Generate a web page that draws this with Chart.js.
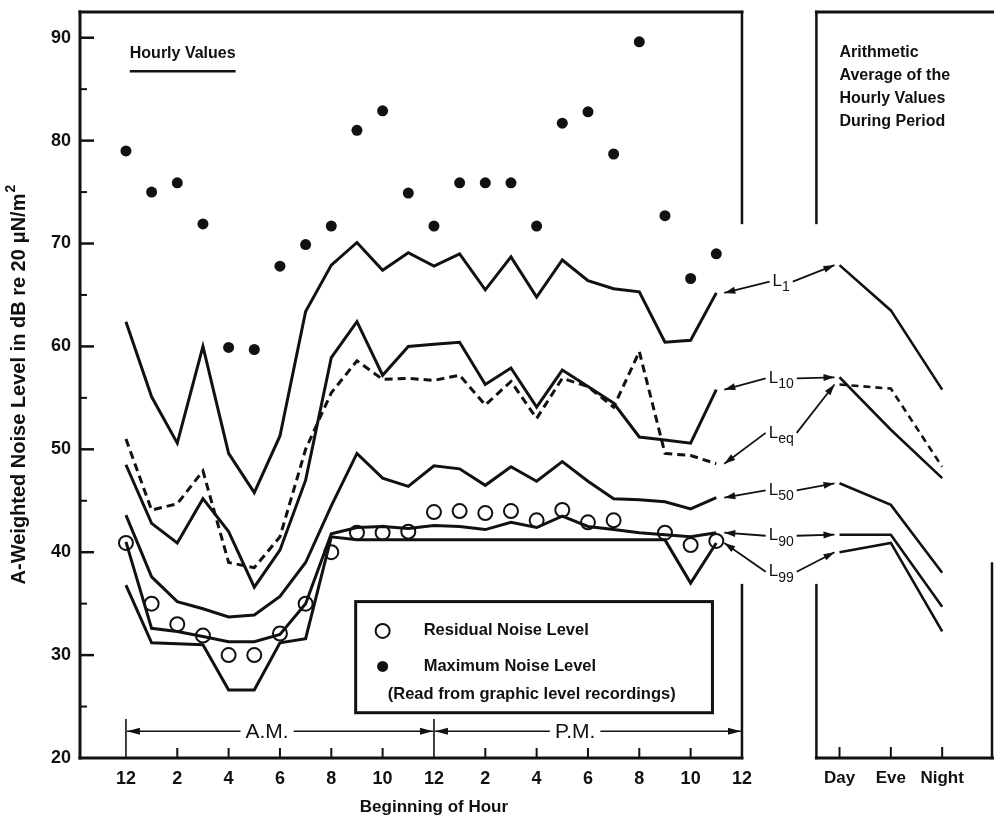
<!DOCTYPE html>
<html>
<head>
<meta charset="utf-8">
<title>A-weighted noise levels by hour</title>
<script src="https://cdn.jsdelivr.net/npm/chart.js@4.4.1/dist/chart.umd.min.js"></script>
<style>
  html, body { margin: 0; padding: 0; background: #fff; }
  canvas { display: block; }
</style>
</head>
<body>
<canvas id="chart" width="994" height="821"></canvas>
<script>
// Hour of day the sample starts at (0 = midnight), and the averaging periods
const HOURS = [0, 1, 2, 3, 4, 5, 6, 7, 8, 9, 10, 11, 12, 13, 14, 15, 16, 17, 18, 19, 20, 21, 22, 23];
const PERIODS = ["Day", "Eve", "Night"];
const HOUR_TICKS = [0, 2, 4, 6, 8, 10, 12, 14, 16, 18, 20, 22, 24];
const LEVEL_TICKS = [20, 30, 40, 50, 60, 70, 80, 90];
const LEVEL_MINOR = [25, 35, 45, 55, 65, 75, 85];

// Statistical levels, dB(A), per hour
const L1 = [62.4, 55.1, 50.6, 60.0, 49.6, 45.8, 51.3, 63.4, 67.9, 70.1, 67.4, 69.1, 67.8, 69.0, 65.5, 68.7, 64.8, 68.4, 66.4, 65.6, 65.3, 60.4, 60.6, 65.2];
const L10 = [48.5, 42.8, 40.9, 45.2, 42.0, 36.6, 40.2, 47.0, 58.9, 62.4, 57.2, 60.0, 60.2, 60.4, 56.3, 57.9, 54.1, 57.7, 56.1, 54.5, 51.2, 50.9, 50.6, 55.8];
const LEQ = [51.0, 44.1, 44.7, 47.9, 39.0, 38.5, 41.5, 50.0, 55.5, 58.6, 56.8, 56.9, 56.7, 57.2, 54.3, 56.6, 53.0, 56.9, 56.1, 54.1, 59.5, 49.6, 49.4, 48.6];
const L50 = [43.6, 37.6, 35.2, 34.5, 33.7, 33.9, 35.7, 39.0, 44.5, 49.6, 47.2, 46.4, 48.4, 48.1, 46.5, 48.3, 46.9, 48.8, 46.9, 45.2, 45.1, 44.9, 44.2, 45.3];
const L90 = [41.0, 32.6, 32.3, 31.8, 31.3, 31.3, 32.0, 35.0, 41.8, 42.4, 42.5, 42.3, 42.6, 42.5, 42.2, 42.9, 42.4, 43.5, 42.5, 42.2, 41.9, 41.7, 41.5, 41.9];
const L99 = [36.8, 31.2, 31.1, 31.0, 26.6, 26.6, 31.2, 31.6, 41.5, 41.2, 41.2, 41.2, 41.2, 41.2, 41.2, 41.2, 41.2, 41.2, 41.2, 41.2, 41.2, 41.2, 37.0, 40.9];

// Point readings per hour
const MAX_LEVEL = [79.0, 75.0, 75.9, 71.9, 59.9, 59.7, 67.8, 69.9, 71.7, 81.0, 82.9, 74.9, 71.7, 75.9, 75.9, 75.9, 71.7, 81.7, 82.8, 78.7, 89.6, 72.7, 66.6, 69.0];
const RESIDUAL = [40.9, 35.0, 33.0, 31.9, 30.0, 30.0, 32.1, 35.0, 40.0, 41.9, 41.9, 42.0, 43.9, 44.0, 43.8, 44.0, 43.1, 44.1, 42.9, 43.1, null, 41.9, 40.7, 41.1];

// Arithmetic averages for Day / Eve / Night
const L1_AVG = [67.9, 63.5, 55.8];
const L10_AVG = [57.0, 51.9, 47.2];
const LEQ_AVG = [56.3, 55.9, 48.3];
const L50_AVG = [46.7, 44.6, 38.0];
const L90_AVG = [41.7, 41.7, 34.7];
const L99_AVG = [40.0, 40.9, 32.3];

const SUBSCRIPTS = ["1", "10", "eq", "50", "90", "99"];

// ---- layout (axis units) ----
const X_MIN = -1.79, X_MAX = 33.78;      // hours spanned by the plot area
const PERIOD_ORIGIN = 27.8;              // hour position of the Day column
const PERIOD_STEP = 2;                   // hours between period columns
const SIDE_EDGE = -0.45;                 // left frame of the average panel, period units
const Y_MIN = 20, Y_MAX = 92.5;
const GAP_TOP = 72.0, GAP_BOTTOM = 36.8; // opening in the frames for the labels
const LABEL_AT = [66.3, 56.9, 51.6, 46.0, 41.6, 38.1];

const INK = "#111";
const FONT = '"Liberation Sans", Arial, Helvetica, sans-serif';

const pts = (xs, ys) => xs.map((x, i) => ({ x, y: ys[i] }));
const periodIdx = PERIODS.map((_, i) => i);

const hourly = [L1, L10, LEQ, L50, L90, L99];
const averages = [L1_AVG, L10_AVG, LEQ_AVG, L50_AVG, L90_AVG, L99_AVG];

function lineSet(values, dashed) {
  return {
    data: pts(HOURS, values),
    xAxisID: "x",
    borderColor: INK,
    borderWidth: 3,
    borderDash: dashed ? [8, 5] : [],
    pointRadius: 0,
    tension: 0,
    fill: false,
  };
}
function avgSet(values, dashed) {
  return {
    data: pts(periodIdx, values),
    xAxisID: "xp",
    borderColor: INK,
    borderWidth: 2.6,
    borderDash: dashed ? [7, 5] : [],
    pointRadius: 0,
    tension: 0,
    fill: false,
  };
}

const datasets = [
  {
    label: "Residual Noise Level",
    data: pts(HOURS, RESIDUAL),
    xAxisID: "x",
    showLine: false,
    pointRadius: 7,
    pointBorderWidth: 2,
    pointBorderColor: INK,
    pointBackgroundColor: "rgba(255,255,255,0)",
  },
  {
    label: "Maximum Noise Level",
    data: pts(HOURS, MAX_LEVEL),
    xAxisID: "x",
    showLine: false,
    pointRadius: 5.5,
    pointBorderWidth: 0,
    pointBackgroundColor: INK,
  },
  ...hourly.map((v, i) => lineSet(v, i === 2)),
  ...averages.map((v, i) => avgSet(v, i === 2)),
];

function arrow(ctx, x1, y1, x2, y2, head, half) {
  ctx.beginPath();
  ctx.moveTo(x1, y1);
  ctx.lineTo(x2, y2);
  ctx.stroke();
  const a = Math.atan2(y2 - y1, x2 - x1);
  const c = Math.cos(a), s = Math.sin(a);
  ctx.beginPath();
  ctx.moveTo(x2, y2);
  ctx.lineTo(x2 - head * c + half * s, y2 - head * s - half * c);
  ctx.lineTo(x2 - head * c - half * s, y2 - head * s + half * c);
  ctx.closePath();
  ctx.fill();
}

function seg(ctx, x1, y1, x2, y2) {
  ctx.beginPath();
  ctx.moveTo(x1, y1);
  ctx.lineTo(x2, y2);
  ctx.stroke();
}

// frames, inward ticks, labels and the legend box
const decorations = {
  id: "decorations",
  beforeDatasetsDraw(chart) {
    const { ctx, chartArea: ca } = chart;
    const x = chart.scales.x, y = chart.scales.y, p = chart.scales.xp;
    const mainRight = x.getPixelForValue(24);
    const sideLeft = p.getPixelForValue(SIDE_EDGE);
    const gapTop = y.getPixelForValue(GAP_TOP), gapBot = y.getPixelForValue(GAP_BOTTOM);
    ctx.save();
    ctx.strokeStyle = INK;
    ctx.lineCap = "square";
    ctx.lineWidth = 3;
    // hourly panel
    seg(ctx, ca.left, ca.top, ca.left, ca.bottom);
    seg(ctx, ca.left, ca.bottom, mainRight, ca.bottom);
    seg(ctx, ca.left, ca.top, mainRight, ca.top);
    ctx.lineWidth = 2.5;
    seg(ctx, mainRight, ca.top, mainRight, gapTop);
    seg(ctx, mainRight, gapBot, mainRight, ca.bottom);
    // average panel
    ctx.lineWidth = 3;
    seg(ctx, sideLeft, ca.bottom, ca.right, ca.bottom);
    seg(ctx, sideLeft, ca.top, ca.right, ca.top);
    ctx.lineWidth = 2.5;
    seg(ctx, sideLeft, ca.top, sideLeft, gapTop);
    seg(ctx, sideLeft, gapBot, sideLeft, ca.bottom);
    seg(ctx, ca.right - 1, y.getPixelForValue(38.9), ca.right - 1, ca.bottom);

    ctx.lineCap = "butt";
    ctx.lineWidth = 2.5;
    LEVEL_TICKS.slice(1).forEach(v => {
      const py = y.getPixelForValue(v);
      seg(ctx, ca.left, py, ca.left + 14, py);
    });
    ctx.lineWidth = 2;
    LEVEL_MINOR.forEach(v => {
      const py = y.getPixelForValue(v);
      seg(ctx, ca.left, py, ca.left + 7, py);
    });
    HOUR_TICKS.filter(h => h % 12 !== 0).forEach(h => {
      const px = x.getPixelForValue(h);
      seg(ctx, px, ca.bottom, px, ca.bottom - 10);
    });
    periodIdx.forEach(i => {
      const px = p.getPixelForValue(i);
      seg(ctx, px, ca.bottom, px, ca.bottom - 11);
    });

    // A.M. / P.M. brackets
    const by = y.getPixelForValue(22.6), bTop = y.getPixelForValue(23.8);
    ctx.lineWidth = 1.6;
    ctx.fillStyle = INK;
    [0, 12].forEach(h => seg(ctx, x.getPixelForValue(h), bTop, x.getPixelForValue(h), ca.bottom));
    ctx.font = `21px ${FONT}`;
    ctx.textAlign = "center";
    ctx.textBaseline = "middle";
    [["A.M.", 0, 12], ["P.M.", 12, 24]].forEach(([txt, h0, h1]) => {
      const cx = x.getPixelForValue(h0 + 5.5);
      const hw = ctx.measureText(txt).width / 2 + 5;
      arrow(ctx, cx - hw, by, x.getPixelForValue(h0) + 1, by, 13, 3.5);
      arrow(ctx, cx + hw, by, x.getPixelForValue(h1) - 1, by, 13, 3.5);
      ctx.fillText(txt, cx, by + 1);
    });
    ctx.restore();
  },
  afterDatasetsDraw(chart) {
    const { ctx, chartArea: ca } = chart;
    const x = chart.scales.x, y = chart.scales.y, p = chart.scales.xp;
    ctx.save();
    ctx.fillStyle = INK;
    ctx.strokeStyle = INK;

    // series labels in the gap, with arrows both ways
    const mainRight = x.getPixelForValue(24);
    const sideLeft = p.getPixelForValue(SIDE_EDGE);
    const cx = (mainRight + sideLeft) / 2 + 2;
    ctx.textBaseline = "middle";
    ctx.textAlign = "left";
    SUBSCRIPTS.forEach((sub, i) => {
      const ly = y.getPixelForValue(LABEL_AT[i]);
      ctx.font = `17px ${FONT}`;
      const wL = ctx.measureText("L").width;
      ctx.font = `14px ${FONT}`;
      const wS = ctx.measureText(sub).width;
      const left = cx - (wL + wS) / 2;
      ctx.font = `17px ${FONT}`;
      ctx.fillText("L", left, ly);
      ctx.font = `14px ${FONT}`;
      ctx.fillText(sub, left + wL, ly + 6);
      const endH = hourly[i][hourly[i].length - 1];
      const startP = averages[i][0];
      ctx.lineWidth = 1.8;
      arrow(ctx, left - 3, ly, x.getPixelForValue(23) + 8, y.getPixelForValue(endH), 11, 3.5);
      arrow(ctx, left + wL + wS + 3, ly, p.getPixelForValue(0) - 5, y.getPixelForValue(startP), 11, 3.5);
    });

    // legend box
    const bl = x.getPixelForValue(8.95), br = x.getPixelForValue(22.85);
    const bt = y.getPixelForValue(35.2), bb = y.getPixelForValue(24.4);
    ctx.fillStyle = "#fff";
    ctx.fillRect(bl, bt, br - bl, bb - bt);
    ctx.lineWidth = 3;
    ctx.strokeRect(bl, bt, br - bl, bb - bt);
    ctx.fillStyle = INK;
    const mx = x.getPixelForValue(10.0), tx = x.getPixelForValue(11.6);
    const r1 = y.getPixelForValue(32.35), r2 = y.getPixelForValue(28.9), r3 = y.getPixelForValue(26.15);
    ctx.lineWidth = 2;
    ctx.beginPath(); ctx.arc(mx, r1, 7, 0, Math.PI * 2); ctx.stroke();
    ctx.beginPath(); ctx.arc(mx, r2, 5.5, 0, Math.PI * 2); ctx.fill();
    ctx.font = `bold 16.5px ${FONT}`;
    ctx.textAlign = "left";
    ctx.fillText("Residual Noise Level", tx, r1);
    ctx.fillText("Maximum Noise Level", tx, r2);
    ctx.fillText("(Read from graphic level recordings)", x.getPixelForValue(10.2), r3);

    // panel captions
    ctx.font = `bold 16px ${FONT}`;
    const hx = x.getPixelForValue(0.15), hy = y.getPixelForValue(88.5);
    ctx.fillText("Hourly Values", hx, hy);
    const uw = ctx.measureText("Hourly Values").width;
    ctx.lineWidth = 2.5;
    seg(ctx, hx, y.getPixelForValue(86.75), hx + uw, y.getPixelForValue(86.75));

    const ax = p.getPixelForValue(0);
    ["Arithmetic", "Average of the", "Hourly Values", "During Period"].forEach((t, k) => {
      ctx.fillText(t, ax, y.getPixelForValue(88.6) + k * 23);
    });

    // period tick labels
    ctx.textAlign = "center";
    ctx.font = `bold 17px ${FONT}`;
    PERIODS.forEach((t, i) => ctx.fillText(t, p.getPixelForValue(i), ca.bottom + 20));

    // axis titles
    ctx.fillText("Beginning of Hour", x.getPixelForValue(12), ca.bottom + 49);
    ctx.save();
    ctx.translate(19, (ca.top + ca.bottom) / 2);
    ctx.rotate(-Math.PI / 2);
    ctx.font = `bold 20px ${FONT}`;
    const main = "A-Weighted Noise Level in dB re 20 \u03BCN/m";
    const w = ctx.measureText(main).width;
    ctx.textAlign = "left";
    ctx.fillText(main, -w / 2 - 4, 0);
    ctx.font = `bold 14px ${FONT}`;
    ctx.fillText("2", w / 2 - 3, -8);
    ctx.restore();

    ctx.restore();
  },
};

new Chart(document.getElementById("chart"), {
  type: "line",
  data: { datasets },
  options: {
    responsive: false,
    animation: false,
    devicePixelRatio: 1,
    layout: { autoPadding: false, padding: { left: 18, right: 1, top: 12, bottom: 0 } },
    plugins: { legend: { display: false }, tooltip: { enabled: false } },
    scales: {
      x: {
        type: "linear",
        min: X_MIN,
        max: X_MAX,
        afterBuildTicks: s => { s.ticks = HOUR_TICKS.map(v => ({ value: v })); },
        afterFit: s => { s.height = 63; s.paddingLeft = 0; s.paddingRight = 0; },
        grid: { display: false, drawTicks: false },
        border: { display: false },
        ticks: {
          autoSkip: false,
          maxRotation: 0,
          padding: 10,
          color: INK,
          font: { family: FONT, size: 18, weight: "bold" },
          callback: v => String(v % 12 === 0 ? 12 : v % 12),
        },
      },
      xp: {
        type: "linear",
        display: false,
        min: (X_MIN - PERIOD_ORIGIN) / PERIOD_STEP,
        max: (X_MAX - PERIOD_ORIGIN) / PERIOD_STEP,
      },
      y: {
        type: "linear",
        min: Y_MIN,
        max: Y_MAX,
        afterBuildTicks: s => { s.ticks = LEVEL_TICKS.map(v => ({ value: v })); },
        afterFit: s => { s.width = 62; s.paddingTop = 0; s.paddingBottom = 0; },
        grid: { display: false, drawTicks: false },
        border: { display: false },
        ticks: {
          padding: 9,
          color: INK,
          font: { family: FONT, size: 18, weight: "bold" },
        },
      },
    },
  },
  plugins: [decorations],
});
</script>
</body>
</html>
